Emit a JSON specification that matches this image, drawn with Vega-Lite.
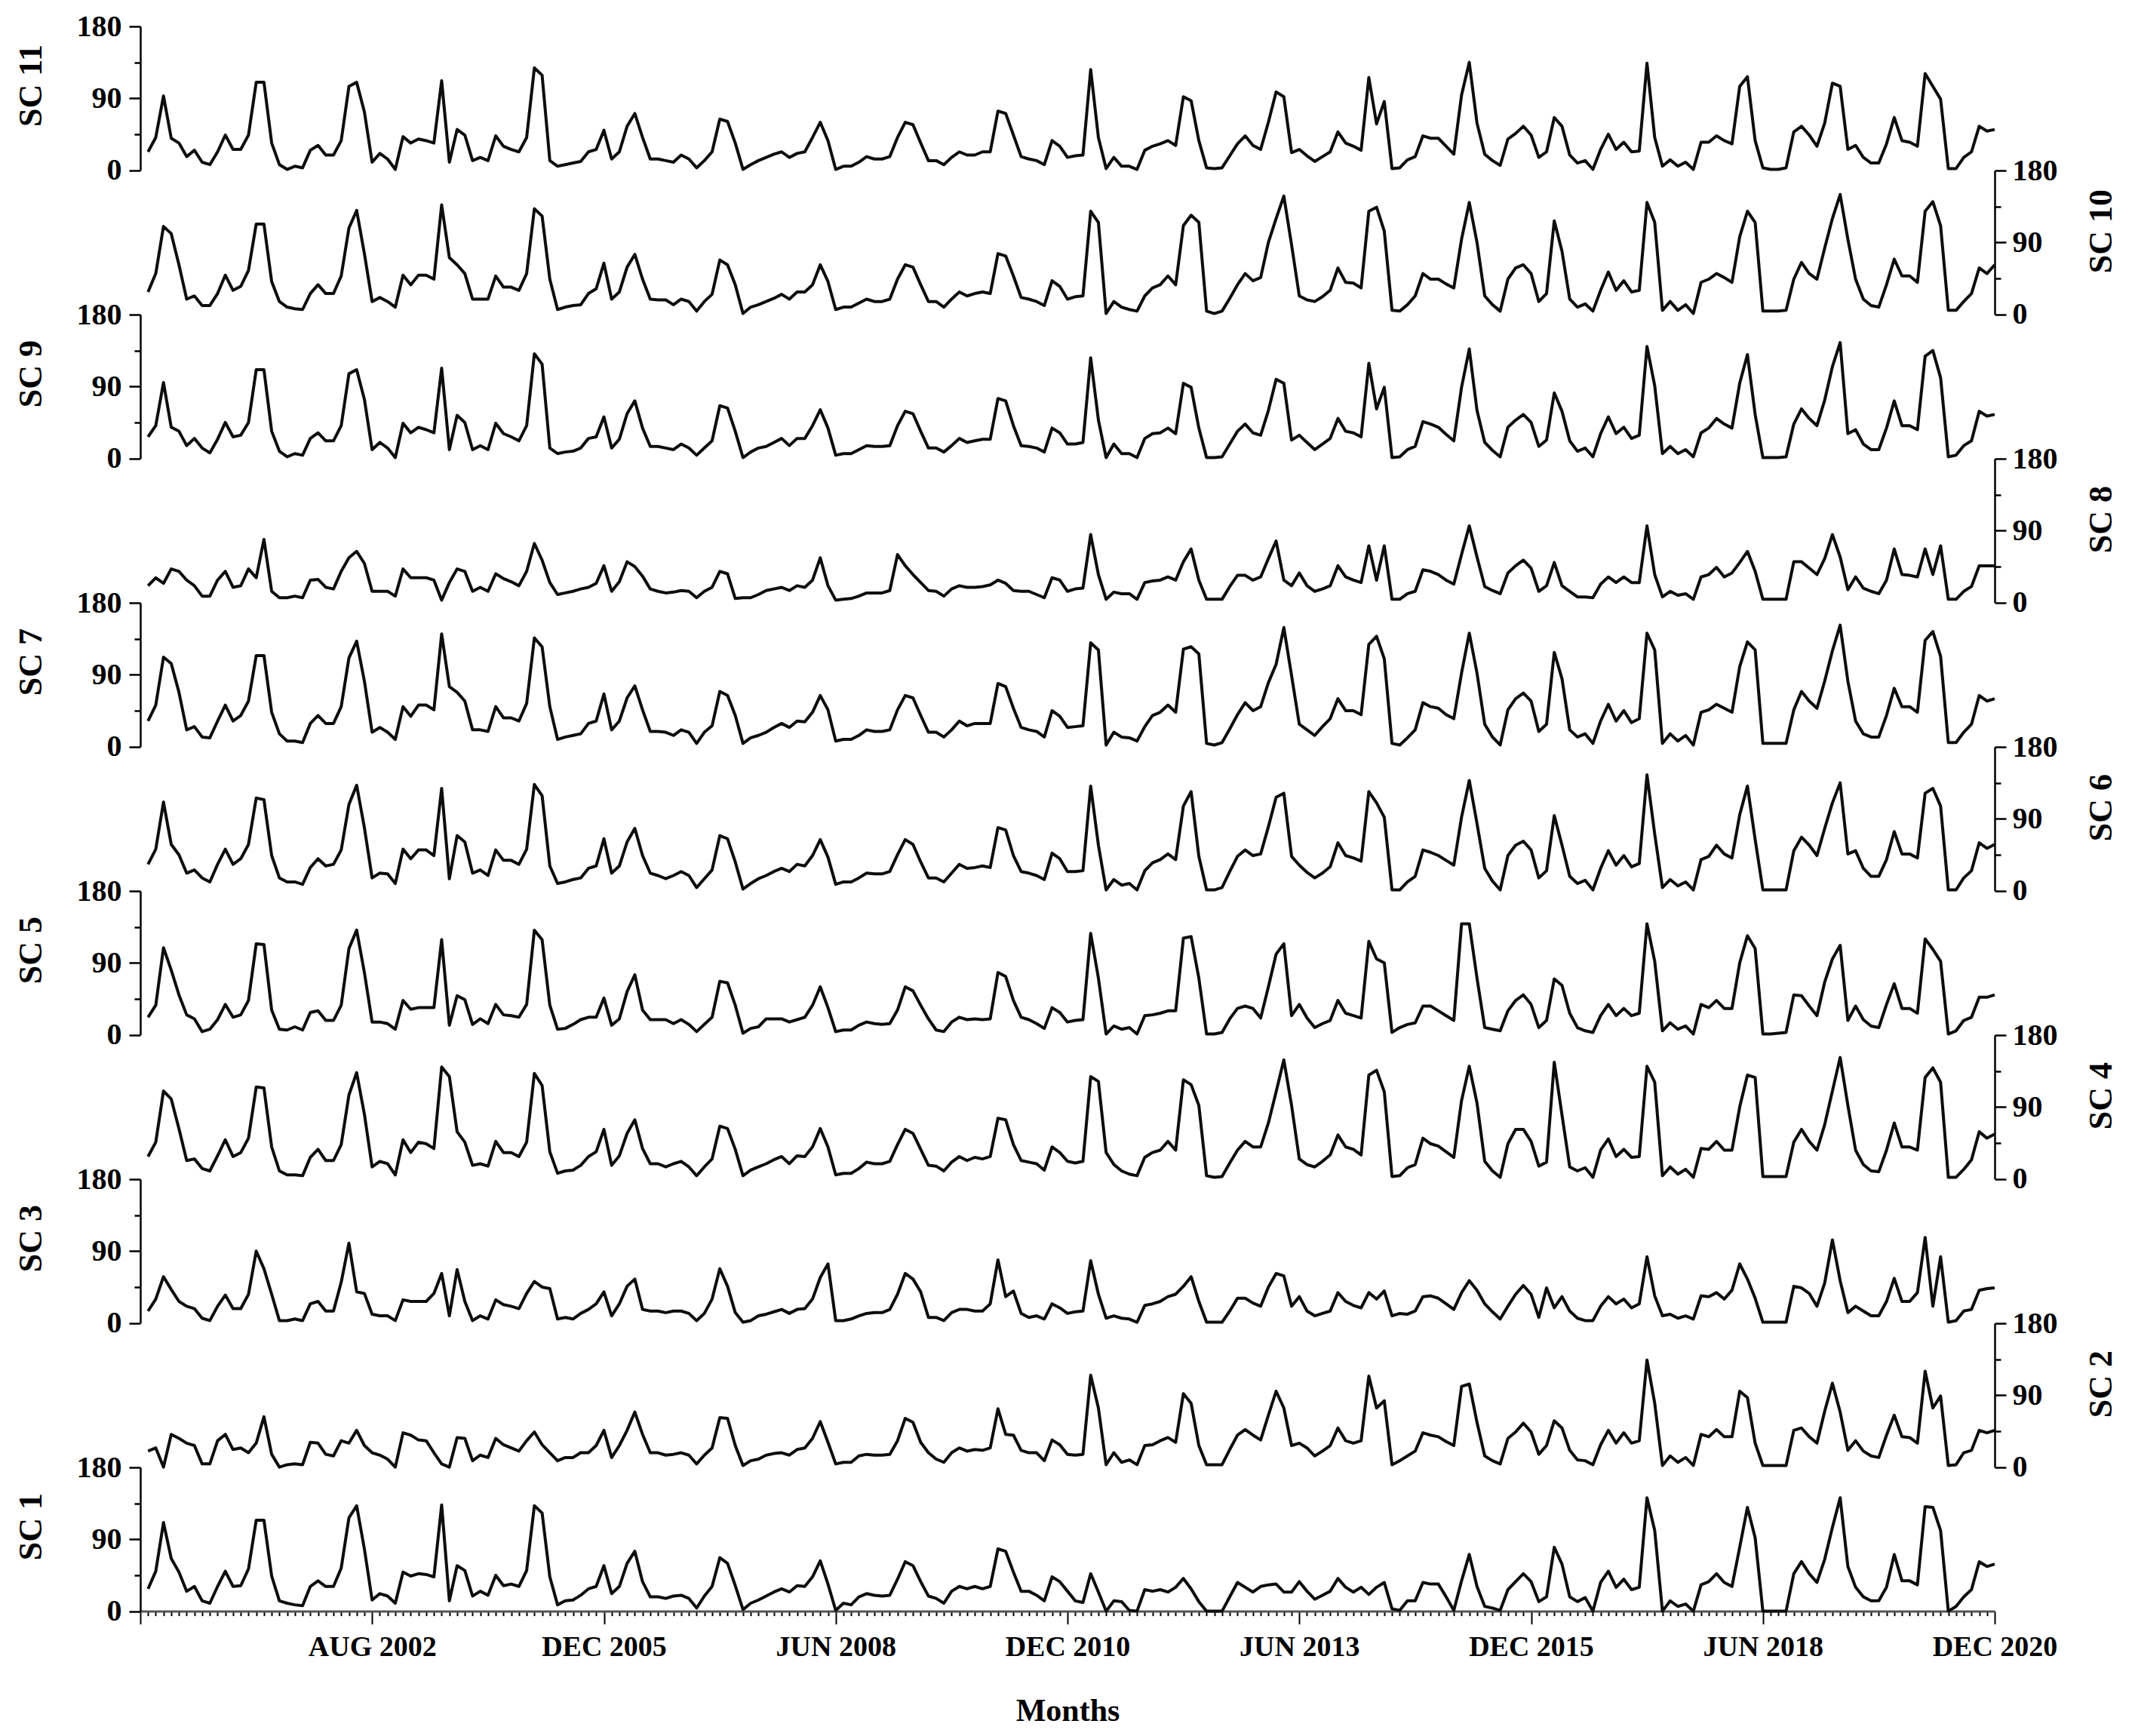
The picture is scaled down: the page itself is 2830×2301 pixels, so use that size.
{
"$schema": "https://vega.github.io/schema/vega-lite/v6.json",
"background": "white",
"padding": {"left": 19, "top": 15, "right": 10, "bottom": 5},
"spacing": 0,
"bounds": "flush",
"config": {
 "view": {"stroke": null},
 "font": "Liberation Serif",
 "line": {"color": "#0d0d0d", "strokeWidth": 4, "strokeJoin": "round"},
 "axis": {"domainColor": "#000000", "domainWidth": 2.5, "tickColor": "#000000", "tickWidth": 2.5, "labelColor": "#000000", "titleColor": "#000000", "labelFont": "Liberation Serif", "titleFont": "Liberation Serif", "labelFontWeight": "bold", "titleFontWeight": "bold", "labelFontSize": 40, "titleFontSize": 44, "grid": false}
},
"datasets": {
"sc11": [{"m":1,"v":23},{"m":2,"v":41},{"m":3,"v":93},{"m":4,"v":40},{"m":5,"v":34},{"m":6,"v":17},{"m":7,"v":25},{"m":8,"v":10},{"m":9,"v":7},{"m":10,"v":23},{"m":11,"v":44},{"m":12,"v":26},{"m":13,"v":26},{"m":14,"v":44},{"m":15,"v":110},{"m":16,"v":110},{"m":17,"v":34},{"m":18,"v":7},{"m":19,"v":1},{"m":20,"v":5},{"m":21,"v":3},{"m":22,"v":25},{"m":23,"v":31},{"m":24,"v":19},{"m":25,"v":19},{"m":26,"v":37},{"m":27,"v":105},{"m":28,"v":110},{"m":29,"v":73},{"m":30,"v":10},{"m":31,"v":21},{"m":32,"v":14},{"m":33,"v":1},{"m":34,"v":42},{"m":35,"v":34},{"m":36,"v":39},{"m":37,"v":37},{"m":38,"v":34},{"m":39,"v":112},{"m":40,"v":10},{"m":41,"v":51},{"m":42,"v":44},{"m":43,"v":12},{"m":44,"v":16},{"m":45,"v":12},{"m":46,"v":43},{"m":47,"v":30},{"m":48,"v":26},{"m":49,"v":23},{"m":50,"v":41},{"m":51,"v":128},{"m":52,"v":119},{"m":53,"v":12},{"m":54,"v":5},{"m":55,"v":7},{"m":56,"v":9},{"m":57,"v":11},{"m":58,"v":23},{"m":59,"v":26},{"m":60,"v":50},{"m":61,"v":14},{"m":62,"v":23},{"m":63,"v":55},{"m":64,"v":71},{"m":65,"v":41},{"m":66,"v":14},{"m":67,"v":14},{"m":68,"v":12},{"m":69,"v":10},{"m":70,"v":19},{"m":71,"v":14},{"m":72,"v":3},{"m":73,"v":12},{"m":74,"v":23},{"m":75,"v":64},{"m":76,"v":61},{"m":77,"v":34},{"m":78,"v":1},{"m":79,"v":7},{"m":80,"v":12},{"m":81,"v":16},{"m":82,"v":20},{"m":83,"v":23},{"m":84,"v":16},{"m":85,"v":21},{"m":86,"v":23},{"m":87,"v":41},{"m":88,"v":60},{"m":89,"v":37},{"m":90,"v":1},{"m":91,"v":5},{"m":92,"v":5},{"m":93,"v":10},{"m":94,"v":17},{"m":95,"v":14},{"m":96,"v":14},{"m":97,"v":17},{"m":98,"v":41},{"m":99,"v":60},{"m":100,"v":57},{"m":101,"v":34},{"m":102,"v":12},{"m":103,"v":12},{"m":104,"v":7},{"m":105,"v":16},{"m":106,"v":23},{"m":107,"v":19},{"m":108,"v":19},{"m":109,"v":23},{"m":110,"v":23},{"m":111,"v":74},{"m":112,"v":71},{"m":113,"v":44},{"m":114,"v":17},{"m":115,"v":14},{"m":116,"v":12},{"m":117,"v":7},{"m":118,"v":37},{"m":119,"v":30},{"m":120,"v":16},{"m":121,"v":18},{"m":122,"v":19},{"m":123,"v":126},{"m":124,"v":41},{"m":125,"v":2},{"m":126,"v":16},{"m":127,"v":5},{"m":128,"v":5},{"m":129,"v":1},{"m":130,"v":25},{"m":131,"v":30},{"m":132,"v":33},{"m":133,"v":37},{"m":134,"v":31},{"m":135,"v":92},{"m":136,"v":87},{"m":137,"v":37},{"m":138,"v":3},{"m":139,"v":2},{"m":140,"v":3},{"m":141,"v":18},{"m":142,"v":33},{"m":143,"v":43},{"m":144,"v":31},{"m":145,"v":26},{"m":146,"v":60},{"m":147,"v":98},{"m":148,"v":92},{"m":149,"v":22},{"m":150,"v":26},{"m":151,"v":18},{"m":152,"v":11},{"m":153,"v":17},{"m":154,"v":23},{"m":155,"v":48},{"m":156,"v":34},{"m":157,"v":30},{"m":158,"v":25},{"m":159,"v":116},{"m":160,"v":58},{"m":161,"v":86},{"m":162,"v":2},{"m":163,"v":3},{"m":164,"v":13},{"m":165,"v":17},{"m":166,"v":43},{"m":167,"v":40},{"m":168,"v":40},{"m":169,"v":30},{"m":170,"v":20},{"m":171,"v":94},{"m":172,"v":135},{"m":173,"v":59},{"m":174,"v":20},{"m":175,"v":12},{"m":176,"v":6},{"m":177,"v":39},{"m":178,"v":46},{"m":179,"v":55},{"m":180,"v":44},{"m":181,"v":16},{"m":182,"v":23},{"m":183,"v":66},{"m":184,"v":55},{"m":185,"v":19},{"m":186,"v":9},{"m":187,"v":12},{"m":188,"v":1},{"m":189,"v":26},{"m":190,"v":45},{"m":191,"v":26},{"m":192,"v":35},{"m":193,"v":23},{"m":194,"v":24},{"m":195,"v":134},{"m":196,"v":41},{"m":197,"v":5},{"m":198,"v":13},{"m":199,"v":5},{"m":200,"v":10},{"m":201,"v":1},{"m":202,"v":35},{"m":203,"v":35},{"m":204,"v":43},{"m":205,"v":37},{"m":206,"v":33},{"m":207,"v":105},{"m":208,"v":117},{"m":209,"v":37},{"m":210,"v":3},{"m":211,"v":1},{"m":212,"v":1},{"m":213,"v":3},{"m":214,"v":48},{"m":215,"v":55},{"m":216,"v":44},{"m":217,"v":30},{"m":218,"v":59},{"m":219,"v":109},{"m":220,"v":105},{"m":221,"v":26},{"m":222,"v":31},{"m":223,"v":16},{"m":224,"v":9},{"m":225,"v":9},{"m":226,"v":33},{"m":227,"v":66},{"m":228,"v":37},{"m":229,"v":35},{"m":230,"v":30},{"m":231,"v":121},{"m":232,"v":105},{"m":233,"v":89},{"m":234,"v":2},{"m":235,"v":2},{"m":236,"v":16},{"m":237,"v":23},{"m":238,"v":55},{"m":239,"v":49},{"m":240,"v":51}],
"sc10": [{"m":1,"v":28},{"m":2,"v":51},{"m":3,"v":110},{"m":4,"v":101},{"m":5,"v":62},{"m":6,"v":19},{"m":7,"v":23},{"m":8,"v":11},{"m":9,"v":11},{"m":10,"v":26},{"m":11,"v":49},{"m":12,"v":30},{"m":13,"v":35},{"m":14,"v":55},{"m":15,"v":113},{"m":16,"v":113},{"m":17,"v":41},{"m":18,"v":16},{"m":19,"v":9},{"m":20,"v":7},{"m":21,"v":6},{"m":22,"v":26},{"m":23,"v":37},{"m":24,"v":26},{"m":25,"v":26},{"m":26,"v":48},{"m":27,"v":108},{"m":28,"v":130},{"m":29,"v":76},{"m":30,"v":16},{"m":31,"v":21},{"m":32,"v":16},{"m":33,"v":9},{"m":34,"v":49},{"m":35,"v":37},{"m":36,"v":49},{"m":37,"v":49},{"m":38,"v":44},{"m":39,"v":137},{"m":40,"v":71},{"m":41,"v":62},{"m":42,"v":51},{"m":43,"v":19},{"m":44,"v":19},{"m":45,"v":19},{"m":46,"v":48},{"m":47,"v":34},{"m":48,"v":34},{"m":49,"v":30},{"m":50,"v":51},{"m":51,"v":132},{"m":52,"v":123},{"m":53,"v":44},{"m":54,"v":6},{"m":55,"v":9},{"m":56,"v":11},{"m":57,"v":12},{"m":58,"v":26},{"m":59,"v":32},{"m":60,"v":64},{"m":61,"v":19},{"m":62,"v":28},{"m":63,"v":59},{"m":64,"v":75},{"m":65,"v":44},{"m":66,"v":19},{"m":67,"v":18},{"m":68,"v":18},{"m":69,"v":12},{"m":70,"v":19},{"m":71,"v":16},{"m":72,"v":4},{"m":73,"v":16},{"m":74,"v":25},{"m":75,"v":68},{"m":76,"v":62},{"m":77,"v":37},{"m":78,"v":1},{"m":79,"v":9},{"m":80,"v":12},{"m":81,"v":16},{"m":82,"v":20},{"m":83,"v":25},{"m":84,"v":19},{"m":85,"v":28},{"m":86,"v":28},{"m":87,"v":37},{"m":88,"v":62},{"m":89,"v":41},{"m":90,"v":6},{"m":91,"v":9},{"m":92,"v":9},{"m":93,"v":14},{"m":94,"v":19},{"m":95,"v":16},{"m":96,"v":16},{"m":97,"v":19},{"m":98,"v":44},{"m":99,"v":62},{"m":100,"v":59},{"m":101,"v":37},{"m":102,"v":16},{"m":103,"v":16},{"m":104,"v":9},{"m":105,"v":19},{"m":106,"v":28},{"m":107,"v":23},{"m":108,"v":26},{"m":109,"v":28},{"m":110,"v":26},{"m":111,"v":76},{"m":112,"v":73},{"m":113,"v":48},{"m":114,"v":21},{"m":115,"v":19},{"m":116,"v":16},{"m":117,"v":11},{"m":118,"v":42},{"m":119,"v":35},{"m":120,"v":19},{"m":121,"v":22},{"m":122,"v":23},{"m":123,"v":129},{"m":124,"v":115},{"m":125,"v":1},{"m":126,"v":16},{"m":127,"v":9},{"m":128,"v":6},{"m":129,"v":4},{"m":130,"v":23},{"m":131,"v":33},{"m":132,"v":37},{"m":133,"v":48},{"m":134,"v":37},{"m":135,"v":111},{"m":136,"v":124},{"m":137,"v":115},{"m":138,"v":4},{"m":139,"v":1},{"m":140,"v":4},{"m":141,"v":20},{"m":142,"v":37},{"m":143,"v":51},{"m":144,"v":42},{"m":145,"v":46},{"m":146,"v":90},{"m":147,"v":120},{"m":148,"v":148},{"m":149,"v":87},{"m":150,"v":23},{"m":151,"v":18},{"m":152,"v":16},{"m":153,"v":22},{"m":154,"v":30},{"m":155,"v":58},{"m":156,"v":40},{"m":157,"v":39},{"m":158,"v":33},{"m":159,"v":129},{"m":160,"v":134},{"m":161,"v":104},{"m":162,"v":5},{"m":163,"v":4},{"m":164,"v":12},{"m":165,"v":23},{"m":166,"v":51},{"m":167,"v":44},{"m":168,"v":44},{"m":169,"v":38},{"m":170,"v":33},{"m":171,"v":94},{"m":172,"v":140},{"m":173,"v":90},{"m":174,"v":23},{"m":175,"v":12},{"m":176,"v":4},{"m":177,"v":44},{"m":178,"v":58},{"m":179,"v":62},{"m":180,"v":51},{"m":181,"v":16},{"m":182,"v":26},{"m":183,"v":117},{"m":184,"v":79},{"m":185,"v":19},{"m":186,"v":9},{"m":187,"v":13},{"m":188,"v":4},{"m":189,"v":30},{"m":190,"v":53},{"m":191,"v":30},{"m":192,"v":42},{"m":193,"v":28},{"m":194,"v":30},{"m":195,"v":140},{"m":196,"v":115},{"m":197,"v":5},{"m":198,"v":16},{"m":199,"v":5},{"m":200,"v":12},{"m":201,"v":1},{"m":202,"v":40},{"m":203,"v":44},{"m":204,"v":51},{"m":205,"v":46},{"m":206,"v":40},{"m":207,"v":97},{"m":208,"v":129},{"m":209,"v":115},{"m":210,"v":4},{"m":211,"v":4},{"m":212,"v":4},{"m":213,"v":5},{"m":214,"v":44},{"m":215,"v":65},{"m":216,"v":51},{"m":217,"v":44},{"m":218,"v":83},{"m":219,"v":120},{"m":220,"v":150},{"m":221,"v":94},{"m":222,"v":44},{"m":223,"v":19},{"m":224,"v":11},{"m":225,"v":9},{"m":226,"v":37},{"m":227,"v":69},{"m":228,"v":48},{"m":229,"v":48},{"m":230,"v":40},{"m":231,"v":129},{"m":232,"v":141},{"m":233,"v":111},{"m":234,"v":5},{"m":235,"v":5},{"m":236,"v":16},{"m":237,"v":26},{"m":238,"v":58},{"m":239,"v":51},{"m":240,"v":62}],
"sc9": [{"m":1,"v":27},{"m":2,"v":41},{"m":3,"v":95},{"m":4,"v":39},{"m":5,"v":34},{"m":6,"v":16},{"m":7,"v":25},{"m":8,"v":13},{"m":9,"v":7},{"m":10,"v":24},{"m":11,"v":45},{"m":12,"v":27},{"m":13,"v":29},{"m":14,"v":45},{"m":15,"v":111},{"m":16,"v":111},{"m":17,"v":34},{"m":18,"v":9},{"m":19,"v":2},{"m":20,"v":6},{"m":21,"v":4},{"m":22,"v":25},{"m":23,"v":32},{"m":24,"v":22},{"m":25,"v":22},{"m":26,"v":41},{"m":27,"v":106},{"m":28,"v":111},{"m":29,"v":74},{"m":30,"v":11},{"m":31,"v":20},{"m":32,"v":13},{"m":33,"v":1},{"m":34,"v":44},{"m":35,"v":32},{"m":36,"v":39},{"m":37,"v":36},{"m":38,"v":32},{"m":39,"v":113},{"m":40,"v":11},{"m":41,"v":54},{"m":42,"v":45},{"m":43,"v":11},{"m":44,"v":16},{"m":45,"v":11},{"m":46,"v":44},{"m":47,"v":31},{"m":48,"v":27},{"m":49,"v":22},{"m":50,"v":41},{"m":51,"v":131},{"m":52,"v":118},{"m":53,"v":13},{"m":54,"v":6},{"m":55,"v":8},{"m":56,"v":9},{"m":57,"v":13},{"m":58,"v":25},{"m":59,"v":27},{"m":60,"v":52},{"m":61,"v":13},{"m":62,"v":24},{"m":63,"v":56},{"m":64,"v":72},{"m":65,"v":38},{"m":66,"v":15},{"m":67,"v":15},{"m":68,"v":13},{"m":69,"v":11},{"m":70,"v":18},{"m":71,"v":13},{"m":72,"v":4},{"m":73,"v":13},{"m":74,"v":22},{"m":75,"v":66},{"m":76,"v":63},{"m":77,"v":34},{"m":78,"v":1},{"m":79,"v":8},{"m":80,"v":13},{"m":81,"v":15},{"m":82,"v":20},{"m":83,"v":25},{"m":84,"v":16},{"m":85,"v":25},{"m":86,"v":25},{"m":87,"v":41},{"m":88,"v":61},{"m":89,"v":38},{"m":90,"v":4},{"m":91,"v":6},{"m":92,"v":6},{"m":93,"v":11},{"m":94,"v":16},{"m":95,"v":15},{"m":96,"v":15},{"m":97,"v":16},{"m":98,"v":41},{"m":99,"v":59},{"m":100,"v":56},{"m":101,"v":34},{"m":102,"v":13},{"m":103,"v":13},{"m":104,"v":8},{"m":105,"v":16},{"m":106,"v":25},{"m":107,"v":20},{"m":108,"v":22},{"m":109,"v":24},{"m":110,"v":24},{"m":111,"v":75},{"m":112,"v":72},{"m":113,"v":41},{"m":114,"v":16},{"m":115,"v":15},{"m":116,"v":13},{"m":117,"v":8},{"m":118,"v":38},{"m":119,"v":32},{"m":120,"v":18},{"m":121,"v":18},{"m":122,"v":20},{"m":123,"v":126},{"m":124,"v":48},{"m":125,"v":1},{"m":126,"v":18},{"m":127,"v":6},{"m":128,"v":6},{"m":129,"v":1},{"m":130,"v":25},{"m":131,"v":31},{"m":132,"v":32},{"m":133,"v":38},{"m":134,"v":31},{"m":135,"v":94},{"m":136,"v":89},{"m":137,"v":38},{"m":138,"v":1},{"m":139,"v":1},{"m":140,"v":2},{"m":141,"v":18},{"m":142,"v":34},{"m":143,"v":43},{"m":144,"v":32},{"m":145,"v":29},{"m":146,"v":60},{"m":147,"v":99},{"m":148,"v":94},{"m":149,"v":23},{"m":150,"v":29},{"m":151,"v":20},{"m":152,"v":11},{"m":153,"v":18},{"m":154,"v":25},{"m":155,"v":50},{"m":156,"v":34},{"m":157,"v":32},{"m":158,"v":27},{"m":159,"v":119},{"m":160,"v":62},{"m":161,"v":89},{"m":162,"v":1},{"m":163,"v":2},{"m":164,"v":11},{"m":165,"v":15},{"m":166,"v":46},{"m":167,"v":43},{"m":168,"v":39},{"m":169,"v":30},{"m":170,"v":22},{"m":171,"v":89},{"m":172,"v":137},{"m":173,"v":60},{"m":174,"v":20},{"m":175,"v":10},{"m":176,"v":2},{"m":177,"v":39},{"m":178,"v":48},{"m":179,"v":55},{"m":180,"v":45},{"m":181,"v":15},{"m":182,"v":23},{"m":183,"v":82},{"m":184,"v":59},{"m":185,"v":22},{"m":186,"v":9},{"m":187,"v":13},{"m":188,"v":2},{"m":189,"v":31},{"m":190,"v":52},{"m":191,"v":31},{"m":192,"v":39},{"m":193,"v":25},{"m":194,"v":29},{"m":195,"v":140},{"m":196,"v":91},{"m":197,"v":6},{"m":198,"v":15},{"m":199,"v":6},{"m":200,"v":11},{"m":201,"v":2},{"m":202,"v":32},{"m":203,"v":38},{"m":204,"v":50},{"m":205,"v":43},{"m":206,"v":38},{"m":207,"v":94},{"m":208,"v":130},{"m":209,"v":55},{"m":210,"v":1},{"m":211,"v":1},{"m":212,"v":1},{"m":213,"v":2},{"m":214,"v":43},{"m":215,"v":62},{"m":216,"v":50},{"m":217,"v":41},{"m":218,"v":73},{"m":219,"v":115},{"m":220,"v":145},{"m":221,"v":31},{"m":222,"v":36},{"m":223,"v":18},{"m":224,"v":11},{"m":225,"v":11},{"m":226,"v":38},{"m":227,"v":72},{"m":228,"v":41},{"m":229,"v":41},{"m":230,"v":36},{"m":231,"v":128},{"m":232,"v":135},{"m":233,"v":101},{"m":234,"v":2},{"m":235,"v":4},{"m":236,"v":16},{"m":237,"v":22},{"m":238,"v":59},{"m":239,"v":53},{"m":240,"v":55}],
"sc8": [{"m":1,"v":21},{"m":2,"v":31},{"m":3,"v":24},{"m":4,"v":42},{"m":5,"v":39},{"m":6,"v":28},{"m":7,"v":21},{"m":8,"v":8},{"m":9,"v":8},{"m":10,"v":28},{"m":11,"v":39},{"m":12,"v":19},{"m":13,"v":21},{"m":14,"v":42},{"m":15,"v":31},{"m":16,"v":79},{"m":17,"v":14},{"m":18,"v":6},{"m":19,"v":6},{"m":20,"v":8},{"m":21,"v":6},{"m":22,"v":28},{"m":23,"v":29},{"m":24,"v":19},{"m":25,"v":17},{"m":26,"v":39},{"m":27,"v":56},{"m":28,"v":64},{"m":29,"v":49},{"m":30,"v":14},{"m":31,"v":14},{"m":32,"v":14},{"m":33,"v":8},{"m":34,"v":42},{"m":35,"v":31},{"m":36,"v":31},{"m":37,"v":31},{"m":38,"v":28},{"m":39,"v":3},{"m":40,"v":25},{"m":41,"v":42},{"m":42,"v":39},{"m":43,"v":14},{"m":44,"v":19},{"m":45,"v":14},{"m":46,"v":36},{"m":47,"v":30},{"m":48,"v":26},{"m":49,"v":21},{"m":50,"v":39},{"m":51,"v":74},{"m":52,"v":53},{"m":53,"v":25},{"m":54,"v":10},{"m":55,"v":12},{"m":56,"v":14},{"m":57,"v":17},{"m":58,"v":19},{"m":59,"v":24},{"m":60,"v":46},{"m":61,"v":14},{"m":62,"v":26},{"m":63,"v":51},{"m":64,"v":45},{"m":65,"v":33},{"m":66,"v":17},{"m":67,"v":14},{"m":68,"v":12},{"m":69,"v":13},{"m":70,"v":15},{"m":71,"v":14},{"m":72,"v":6},{"m":73,"v":14},{"m":74,"v":19},{"m":75,"v":39},{"m":76,"v":36},{"m":77,"v":5},{"m":78,"v":6},{"m":79,"v":6},{"m":80,"v":10},{"m":81,"v":15},{"m":82,"v":17},{"m":83,"v":19},{"m":84,"v":15},{"m":85,"v":21},{"m":86,"v":19},{"m":87,"v":28},{"m":88,"v":56},{"m":89,"v":21},{"m":90,"v":3},{"m":91,"v":4},{"m":92,"v":5},{"m":93,"v":8},{"m":94,"v":12},{"m":95,"v":12},{"m":96,"v":12},{"m":97,"v":15},{"m":98,"v":60},{"m":99,"v":46},{"m":100,"v":35},{"m":101,"v":25},{"m":102,"v":15},{"m":103,"v":14},{"m":104,"v":8},{"m":105,"v":17},{"m":106,"v":21},{"m":107,"v":19},{"m":108,"v":19},{"m":109,"v":20},{"m":110,"v":22},{"m":111,"v":28},{"m":112,"v":24},{"m":113,"v":15},{"m":114,"v":14},{"m":115,"v":14},{"m":116,"v":10},{"m":117,"v":6},{"m":118,"v":31},{"m":119,"v":28},{"m":120,"v":14},{"m":121,"v":17},{"m":122,"v":18},{"m":123,"v":85},{"m":124,"v":35},{"m":125,"v":4},{"m":126,"v":13},{"m":127,"v":11},{"m":128,"v":11},{"m":129,"v":4},{"m":130,"v":25},{"m":131,"v":27},{"m":132,"v":28},{"m":133,"v":32},{"m":134,"v":28},{"m":135,"v":51},{"m":136,"v":67},{"m":137,"v":28},{"m":138,"v":4},{"m":139,"v":4},{"m":140,"v":4},{"m":141,"v":20},{"m":142,"v":34},{"m":143,"v":34},{"m":144,"v":28},{"m":145,"v":32},{"m":146,"v":55},{"m":147,"v":77},{"m":148,"v":28},{"m":149,"v":21},{"m":150,"v":37},{"m":151,"v":21},{"m":152,"v":14},{"m":153,"v":17},{"m":154,"v":21},{"m":155,"v":46},{"m":156,"v":32},{"m":157,"v":28},{"m":158,"v":25},{"m":159,"v":71},{"m":160,"v":28},{"m":161,"v":71},{"m":162,"v":4},{"m":163,"v":4},{"m":164,"v":11},{"m":165,"v":14},{"m":166,"v":41},{"m":167,"v":39},{"m":168,"v":35},{"m":169,"v":28},{"m":170,"v":23},{"m":171,"v":60},{"m":172,"v":96},{"m":173,"v":57},{"m":174,"v":20},{"m":175,"v":15},{"m":176,"v":11},{"m":177,"v":37},{"m":178,"v":46},{"m":179,"v":53},{"m":180,"v":43},{"m":181,"v":14},{"m":182,"v":21},{"m":183,"v":50},{"m":184,"v":21},{"m":185,"v":14},{"m":186,"v":7},{"m":187,"v":7},{"m":188,"v":6},{"m":189,"v":23},{"m":190,"v":32},{"m":191,"v":25},{"m":192,"v":32},{"m":193,"v":25},{"m":194,"v":25},{"m":195,"v":96},{"m":196,"v":35},{"m":197,"v":7},{"m":198,"v":14},{"m":199,"v":9},{"m":200,"v":11},{"m":201,"v":4},{"m":202,"v":32},{"m":203,"v":35},{"m":204,"v":44},{"m":205,"v":32},{"m":206,"v":37},{"m":207,"v":50},{"m":208,"v":64},{"m":209,"v":39},{"m":210,"v":4},{"m":211,"v":4},{"m":212,"v":4},{"m":213,"v":4},{"m":214,"v":51},{"m":215,"v":51},{"m":216,"v":43},{"m":217,"v":35},{"m":218,"v":55},{"m":219,"v":85},{"m":220,"v":57},{"m":221,"v":16},{"m":222,"v":32},{"m":223,"v":18},{"m":224,"v":14},{"m":225,"v":11},{"m":226,"v":28},{"m":227,"v":67},{"m":228,"v":35},{"m":229,"v":34},{"m":230,"v":32},{"m":231,"v":67},{"m":232,"v":35},{"m":233,"v":71},{"m":234,"v":4},{"m":235,"v":4},{"m":236,"v":14},{"m":237,"v":20},{"m":238,"v":46},{"m":239,"v":46},{"m":240,"v":46}],
"sc7": [{"m":1,"v":32},{"m":2,"v":52},{"m":3,"v":112},{"m":4,"v":104},{"m":5,"v":68},{"m":6,"v":21},{"m":7,"v":25},{"m":8,"v":12},{"m":9,"v":11},{"m":10,"v":32},{"m":11,"v":52},{"m":12,"v":32},{"m":13,"v":39},{"m":14,"v":57},{"m":15,"v":114},{"m":16,"v":114},{"m":17,"v":43},{"m":18,"v":16},{"m":19,"v":7},{"m":20,"v":7},{"m":21,"v":5},{"m":22,"v":29},{"m":23,"v":39},{"m":24,"v":29},{"m":25,"v":29},{"m":26,"v":50},{"m":27,"v":111},{"m":28,"v":132},{"m":29,"v":82},{"m":30,"v":18},{"m":31,"v":24},{"m":32,"v":18},{"m":33,"v":9},{"m":34,"v":50},{"m":35,"v":38},{"m":36,"v":52},{"m":37,"v":52},{"m":38,"v":46},{"m":39,"v":141},{"m":40,"v":75},{"m":41,"v":68},{"m":42,"v":57},{"m":43,"v":21},{"m":44,"v":21},{"m":45,"v":19},{"m":46,"v":50},{"m":47,"v":36},{"m":48,"v":36},{"m":49,"v":32},{"m":50,"v":54},{"m":51,"v":136},{"m":52,"v":125},{"m":53,"v":50},{"m":54,"v":9},{"m":55,"v":12},{"m":56,"v":14},{"m":57,"v":16},{"m":58,"v":29},{"m":59,"v":32},{"m":60,"v":66},{"m":61,"v":21},{"m":62,"v":32},{"m":63,"v":61},{"m":64,"v":76},{"m":65,"v":46},{"m":66,"v":19},{"m":67,"v":19},{"m":68,"v":18},{"m":69,"v":14},{"m":70,"v":21},{"m":71,"v":18},{"m":72,"v":4},{"m":73,"v":18},{"m":74,"v":26},{"m":75,"v":69},{"m":76,"v":64},{"m":77,"v":39},{"m":78,"v":4},{"m":79,"v":11},{"m":80,"v":14},{"m":81,"v":18},{"m":82,"v":24},{"m":83,"v":29},{"m":84,"v":24},{"m":85,"v":32},{"m":86,"v":31},{"m":87,"v":43},{"m":88,"v":64},{"m":89,"v":46},{"m":90,"v":7},{"m":91,"v":9},{"m":92,"v":9},{"m":93,"v":14},{"m":94,"v":21},{"m":95,"v":19},{"m":96,"v":19},{"m":97,"v":21},{"m":98,"v":46},{"m":99,"v":64},{"m":100,"v":61},{"m":101,"v":39},{"m":102,"v":18},{"m":103,"v":18},{"m":104,"v":12},{"m":105,"v":21},{"m":106,"v":32},{"m":107,"v":26},{"m":108,"v":29},{"m":109,"v":29},{"m":110,"v":29},{"m":111,"v":79},{"m":112,"v":75},{"m":113,"v":48},{"m":114,"v":24},{"m":115,"v":21},{"m":116,"v":19},{"m":117,"v":12},{"m":118,"v":45},{"m":119,"v":38},{"m":120,"v":24},{"m":121,"v":25},{"m":122,"v":26},{"m":123,"v":130},{"m":124,"v":121},{"m":125,"v":2},{"m":126,"v":18},{"m":127,"v":12},{"m":128,"v":11},{"m":129,"v":7},{"m":130,"v":25},{"m":131,"v":39},{"m":132,"v":43},{"m":133,"v":52},{"m":134,"v":43},{"m":135,"v":122},{"m":136,"v":125},{"m":137,"v":116},{"m":138,"v":4},{"m":139,"v":2},{"m":140,"v":5},{"m":141,"v":22},{"m":142,"v":40},{"m":143,"v":55},{"m":144,"v":45},{"m":145,"v":50},{"m":146,"v":80},{"m":147,"v":103},{"m":148,"v":149},{"m":149,"v":89},{"m":150,"v":28},{"m":151,"v":21},{"m":152,"v":14},{"m":153,"v":25},{"m":154,"v":35},{"m":155,"v":60},{"m":156,"v":45},{"m":157,"v":45},{"m":158,"v":40},{"m":159,"v":128},{"m":160,"v":138},{"m":161,"v":110},{"m":162,"v":4},{"m":163,"v":2},{"m":164,"v":11},{"m":165,"v":21},{"m":166,"v":55},{"m":167,"v":50},{"m":168,"v":48},{"m":169,"v":40},{"m":170,"v":35},{"m":171,"v":92},{"m":172,"v":142},{"m":173,"v":92},{"m":174,"v":28},{"m":175,"v":12},{"m":176,"v":2},{"m":177,"v":46},{"m":178,"v":60},{"m":179,"v":67},{"m":180,"v":57},{"m":181,"v":19},{"m":182,"v":28},{"m":183,"v":118},{"m":184,"v":85},{"m":185,"v":21},{"m":186,"v":12},{"m":187,"v":16},{"m":188,"v":4},{"m":189,"v":32},{"m":190,"v":53},{"m":191,"v":32},{"m":192,"v":45},{"m":193,"v":30},{"m":194,"v":35},{"m":195,"v":142},{"m":196,"v":121},{"m":197,"v":4},{"m":198,"v":16},{"m":199,"v":7},{"m":200,"v":14},{"m":201,"v":2},{"m":202,"v":43},{"m":203,"v":46},{"m":204,"v":53},{"m":205,"v":48},{"m":206,"v":43},{"m":207,"v":100},{"m":208,"v":131},{"m":209,"v":121},{"m":210,"v":4},{"m":211,"v":4},{"m":212,"v":4},{"m":213,"v":4},{"m":214,"v":46},{"m":215,"v":69},{"m":216,"v":57},{"m":217,"v":48},{"m":218,"v":82},{"m":219,"v":120},{"m":220,"v":152},{"m":221,"v":82},{"m":222,"v":32},{"m":223,"v":16},{"m":224,"v":12},{"m":225,"v":12},{"m":226,"v":39},{"m":227,"v":73},{"m":228,"v":50},{"m":229,"v":50},{"m":230,"v":43},{"m":231,"v":133},{"m":232,"v":144},{"m":233,"v":113},{"m":234,"v":5},{"m":235,"v":5},{"m":236,"v":18},{"m":237,"v":28},{"m":238,"v":64},{"m":239,"v":57},{"m":240,"v":60}],
"sc6": [{"m":1,"v":33},{"m":2,"v":52},{"m":3,"v":111},{"m":4,"v":58},{"m":5,"v":45},{"m":6,"v":22},{"m":7,"v":26},{"m":8,"v":16},{"m":9,"v":11},{"m":10,"v":33},{"m":11,"v":52},{"m":12,"v":33},{"m":13,"v":40},{"m":14,"v":58},{"m":15,"v":116},{"m":16,"v":114},{"m":17,"v":44},{"m":18,"v":16},{"m":19,"v":11},{"m":20,"v":11},{"m":21,"v":8},{"m":22,"v":29},{"m":23,"v":40},{"m":24,"v":31},{"m":25,"v":33},{"m":26,"v":51},{"m":27,"v":108},{"m":28,"v":132},{"m":29,"v":79},{"m":30,"v":16},{"m":31,"v":22},{"m":32,"v":21},{"m":33,"v":9},{"m":34,"v":52},{"m":35,"v":40},{"m":36,"v":51},{"m":37,"v":51},{"m":38,"v":44},{"m":39,"v":128},{"m":40,"v":15},{"m":41,"v":69},{"m":42,"v":61},{"m":43,"v":22},{"m":44,"v":26},{"m":45,"v":19},{"m":46,"v":51},{"m":47,"v":38},{"m":48,"v":38},{"m":49,"v":33},{"m":50,"v":52},{"m":51,"v":133},{"m":52,"v":119},{"m":53,"v":31},{"m":54,"v":9},{"m":55,"v":11},{"m":56,"v":14},{"m":57,"v":16},{"m":58,"v":28},{"m":59,"v":31},{"m":60,"v":65},{"m":61,"v":22},{"m":62,"v":31},{"m":63,"v":61},{"m":64,"v":78},{"m":65,"v":44},{"m":66,"v":22},{"m":67,"v":19},{"m":68,"v":15},{"m":69,"v":19},{"m":70,"v":24},{"m":71,"v":19},{"m":72,"v":4},{"m":73,"v":15},{"m":74,"v":26},{"m":75,"v":69},{"m":76,"v":65},{"m":77,"v":36},{"m":78,"v":2},{"m":79,"v":9},{"m":80,"v":15},{"m":81,"v":19},{"m":82,"v":24},{"m":83,"v":28},{"m":84,"v":24},{"m":85,"v":33},{"m":86,"v":31},{"m":87,"v":44},{"m":88,"v":64},{"m":89,"v":42},{"m":90,"v":8},{"m":91,"v":11},{"m":92,"v":11},{"m":93,"v":16},{"m":94,"v":22},{"m":95,"v":21},{"m":96,"v":21},{"m":97,"v":24},{"m":98,"v":45},{"m":99,"v":64},{"m":100,"v":58},{"m":101,"v":36},{"m":102,"v":16},{"m":103,"v":16},{"m":104,"v":11},{"m":105,"v":22},{"m":106,"v":33},{"m":107,"v":28},{"m":108,"v":29},{"m":109,"v":31},{"m":110,"v":29},{"m":111,"v":79},{"m":112,"v":76},{"m":113,"v":44},{"m":114,"v":24},{"m":115,"v":22},{"m":116,"v":19},{"m":117,"v":14},{"m":118,"v":47},{"m":119,"v":40},{"m":120,"v":24},{"m":121,"v":24},{"m":122,"v":25},{"m":123,"v":131},{"m":124,"v":57},{"m":125,"v":1},{"m":126,"v":14},{"m":127,"v":7},{"m":128,"v":9},{"m":129,"v":1},{"m":130,"v":25},{"m":131,"v":35},{"m":132,"v":39},{"m":133,"v":46},{"m":134,"v":39},{"m":135,"v":106},{"m":136,"v":124},{"m":137,"v":43},{"m":138,"v":1},{"m":139,"v":1},{"m":140,"v":4},{"m":141,"v":24},{"m":142,"v":43},{"m":143,"v":51},{"m":144,"v":44},{"m":145,"v":46},{"m":146,"v":80},{"m":147,"v":117},{"m":148,"v":122},{"m":149,"v":43},{"m":150,"v":32},{"m":151,"v":23},{"m":152,"v":16},{"m":153,"v":22},{"m":154,"v":30},{"m":155,"v":60},{"m":156,"v":44},{"m":157,"v":41},{"m":158,"v":37},{"m":159,"v":124},{"m":160,"v":110},{"m":161,"v":92},{"m":162,"v":1},{"m":163,"v":1},{"m":164,"v":11},{"m":165,"v":18},{"m":166,"v":51},{"m":167,"v":48},{"m":168,"v":44},{"m":169,"v":38},{"m":170,"v":32},{"m":171,"v":92},{"m":172,"v":138},{"m":173,"v":84},{"m":174,"v":28},{"m":175,"v":12},{"m":176,"v":1},{"m":177,"v":44},{"m":178,"v":57},{"m":179,"v":62},{"m":180,"v":51},{"m":181,"v":16},{"m":182,"v":25},{"m":183,"v":94},{"m":184,"v":57},{"m":185,"v":18},{"m":186,"v":9},{"m":187,"v":13},{"m":188,"v":1},{"m":189,"v":28},{"m":190,"v":50},{"m":191,"v":32},{"m":192,"v":44},{"m":193,"v":30},{"m":194,"v":34},{"m":195,"v":145},{"m":196,"v":71},{"m":197,"v":4},{"m":198,"v":14},{"m":199,"v":6},{"m":200,"v":11},{"m":201,"v":1},{"m":202,"v":39},{"m":203,"v":43},{"m":204,"v":57},{"m":205,"v":46},{"m":206,"v":41},{"m":207,"v":95},{"m":208,"v":131},{"m":209,"v":64},{"m":210,"v":1},{"m":211,"v":1},{"m":212,"v":1},{"m":213,"v":1},{"m":214,"v":50},{"m":215,"v":67},{"m":216,"v":57},{"m":217,"v":44},{"m":218,"v":78},{"m":219,"v":110},{"m":220,"v":135},{"m":221,"v":46},{"m":222,"v":50},{"m":223,"v":28},{"m":224,"v":18},{"m":225,"v":18},{"m":226,"v":39},{"m":227,"v":74},{"m":228,"v":46},{"m":229,"v":46},{"m":230,"v":41},{"m":231,"v":122},{"m":232,"v":128},{"m":233,"v":106},{"m":234,"v":1},{"m":235,"v":1},{"m":236,"v":16},{"m":237,"v":25},{"m":238,"v":60},{"m":239,"v":53},{"m":240,"v":58}],
"sc5": [{"m":1,"v":22},{"m":2,"v":37},{"m":3,"v":109},{"m":4,"v":81},{"m":5,"v":50},{"m":6,"v":25},{"m":7,"v":20},{"m":8,"v":4},{"m":9,"v":7},{"m":10,"v":19},{"m":11,"v":38},{"m":12,"v":22},{"m":13,"v":25},{"m":14,"v":43},{"m":15,"v":114},{"m":16,"v":113},{"m":17,"v":31},{"m":18,"v":7},{"m":19,"v":6},{"m":20,"v":10},{"m":21,"v":6},{"m":22,"v":28},{"m":23,"v":30},{"m":24,"v":18},{"m":25,"v":18},{"m":26,"v":37},{"m":27,"v":108},{"m":28,"v":131},{"m":29,"v":78},{"m":30,"v":16},{"m":31,"v":16},{"m":32,"v":14},{"m":33,"v":7},{"m":34,"v":43},{"m":35,"v":32},{"m":36,"v":34},{"m":37,"v":34},{"m":38,"v":34},{"m":39,"v":119},{"m":40,"v":12},{"m":41,"v":49},{"m":42,"v":44},{"m":43,"v":13},{"m":44,"v":20},{"m":45,"v":14},{"m":46,"v":38},{"m":47,"v":25},{"m":48,"v":24},{"m":49,"v":22},{"m":50,"v":38},{"m":51,"v":131},{"m":52,"v":119},{"m":53,"v":37},{"m":54,"v":7},{"m":55,"v":8},{"m":56,"v":13},{"m":57,"v":19},{"m":58,"v":22},{"m":59,"v":22},{"m":60,"v":46},{"m":61,"v":12},{"m":62,"v":20},{"m":63,"v":54},{"m":64,"v":75},{"m":65,"v":31},{"m":66,"v":19},{"m":67,"v":19},{"m":68,"v":19},{"m":69,"v":14},{"m":70,"v":19},{"m":71,"v":13},{"m":72,"v":4},{"m":73,"v":13},{"m":74,"v":22},{"m":75,"v":67},{"m":76,"v":65},{"m":77,"v":37},{"m":78,"v":2},{"m":79,"v":8},{"m":80,"v":10},{"m":81,"v":20},{"m":82,"v":20},{"m":83,"v":20},{"m":84,"v":16},{"m":85,"v":19},{"m":86,"v":22},{"m":87,"v":37},{"m":88,"v":60},{"m":89,"v":34},{"m":90,"v":4},{"m":91,"v":6},{"m":92,"v":6},{"m":93,"v":12},{"m":94,"v":16},{"m":95,"v":14},{"m":96,"v":13},{"m":97,"v":14},{"m":98,"v":31},{"m":99,"v":60},{"m":100,"v":55},{"m":101,"v":37},{"m":102,"v":20},{"m":103,"v":6},{"m":104,"v":4},{"m":105,"v":16},{"m":106,"v":22},{"m":107,"v":19},{"m":108,"v":20},{"m":109,"v":19},{"m":110,"v":20},{"m":111,"v":78},{"m":112,"v":73},{"m":113,"v":43},{"m":114,"v":22},{"m":115,"v":19},{"m":116,"v":14},{"m":117,"v":8},{"m":118,"v":34},{"m":119,"v":28},{"m":120,"v":16},{"m":121,"v":18},{"m":122,"v":19},{"m":123,"v":127},{"m":124,"v":71},{"m":125,"v":1},{"m":126,"v":11},{"m":127,"v":7},{"m":128,"v":9},{"m":129,"v":1},{"m":130,"v":24},{"m":131,"v":25},{"m":132,"v":27},{"m":133,"v":30},{"m":134,"v":30},{"m":135,"v":121},{"m":136,"v":123},{"m":137,"v":71},{"m":138,"v":1},{"m":139,"v":1},{"m":140,"v":3},{"m":141,"v":20},{"m":142,"v":33},{"m":143,"v":36},{"m":144,"v":33},{"m":145,"v":21},{"m":146,"v":60},{"m":147,"v":101},{"m":148,"v":114},{"m":149,"v":24},{"m":150,"v":38},{"m":151,"v":21},{"m":152,"v":9},{"m":153,"v":14},{"m":154,"v":18},{"m":155,"v":43},{"m":156,"v":27},{"m":157,"v":24},{"m":158,"v":21},{"m":159,"v":117},{"m":160,"v":95},{"m":161,"v":90},{"m":162,"v":3},{"m":163,"v":9},{"m":164,"v":13},{"m":165,"v":15},{"m":166,"v":36},{"m":167,"v":36},{"m":168,"v":30},{"m":169,"v":24},{"m":170,"v":18},{"m":171,"v":139},{"m":172,"v":139},{"m":173,"v":71},{"m":174,"v":9},{"m":175,"v":7},{"m":176,"v":5},{"m":177,"v":30},{"m":178,"v":43},{"m":179,"v":50},{"m":180,"v":38},{"m":181,"v":9},{"m":182,"v":18},{"m":183,"v":70},{"m":184,"v":62},{"m":185,"v":27},{"m":186,"v":9},{"m":187,"v":5},{"m":188,"v":3},{"m":189,"v":24},{"m":190,"v":38},{"m":191,"v":24},{"m":192,"v":33},{"m":193,"v":24},{"m":194,"v":27},{"m":195,"v":139},{"m":196,"v":92},{"m":197,"v":5},{"m":198,"v":15},{"m":199,"v":7},{"m":200,"v":11},{"m":201,"v":1},{"m":202,"v":38},{"m":203,"v":34},{"m":204,"v":43},{"m":205,"v":33},{"m":206,"v":33},{"m":207,"v":90},{"m":208,"v":124},{"m":209,"v":108},{"m":210,"v":1},{"m":211,"v":1},{"m":212,"v":2},{"m":213,"v":3},{"m":214,"v":50},{"m":215,"v":49},{"m":216,"v":36},{"m":217,"v":24},{"m":218,"v":66},{"m":219,"v":95},{"m":220,"v":112},{"m":221,"v":18},{"m":222,"v":36},{"m":223,"v":19},{"m":224,"v":11},{"m":225,"v":9},{"m":226,"v":38},{"m":227,"v":64},{"m":228,"v":33},{"m":229,"v":33},{"m":230,"v":27},{"m":231,"v":120},{"m":232,"v":107},{"m":233,"v":92},{"m":234,"v":1},{"m":235,"v":5},{"m":236,"v":18},{"m":237,"v":22},{"m":238,"v":47},{"m":239,"v":47},{"m":240,"v":50}],
"sc4": [{"m":1,"v":28},{"m":2,"v":46},{"m":3,"v":110},{"m":4,"v":100},{"m":5,"v":63},{"m":6,"v":23},{"m":7,"v":25},{"m":8,"v":13},{"m":9,"v":10},{"m":10,"v":29},{"m":11,"v":49},{"m":12,"v":28},{"m":13,"v":33},{"m":14,"v":51},{"m":15,"v":115},{"m":16,"v":114},{"m":17,"v":40},{"m":18,"v":10},{"m":19,"v":5},{"m":20,"v":5},{"m":21,"v":4},{"m":22,"v":27},{"m":23,"v":37},{"m":24,"v":23},{"m":25,"v":23},{"m":26,"v":43},{"m":27,"v":105},{"m":28,"v":133},{"m":29,"v":81},{"m":30,"v":15},{"m":31,"v":22},{"m":32,"v":19},{"m":33,"v":5},{"m":34,"v":49},{"m":35,"v":33},{"m":36,"v":46},{"m":37,"v":44},{"m":38,"v":38},{"m":39,"v":140},{"m":40,"v":128},{"m":41,"v":59},{"m":42,"v":46},{"m":43,"v":17},{"m":44,"v":19},{"m":45,"v":16},{"m":46,"v":47},{"m":47,"v":33},{"m":48,"v":33},{"m":49,"v":28},{"m":50,"v":46},{"m":51,"v":132},{"m":52,"v":117},{"m":53,"v":34},{"m":54,"v":7},{"m":55,"v":10},{"m":56,"v":11},{"m":57,"v":17},{"m":58,"v":28},{"m":59,"v":34},{"m":60,"v":62},{"m":61,"v":17},{"m":62,"v":29},{"m":63,"v":57},{"m":64,"v":74},{"m":65,"v":38},{"m":66,"v":19},{"m":67,"v":19},{"m":68,"v":15},{"m":69,"v":19},{"m":70,"v":22},{"m":71,"v":15},{"m":72,"v":4},{"m":73,"v":15},{"m":74,"v":25},{"m":75,"v":66},{"m":76,"v":63},{"m":77,"v":37},{"m":78,"v":4},{"m":79,"v":11},{"m":80,"v":15},{"m":81,"v":19},{"m":82,"v":24},{"m":83,"v":28},{"m":84,"v":19},{"m":85,"v":29},{"m":86,"v":28},{"m":87,"v":40},{"m":88,"v":63},{"m":89,"v":40},{"m":90,"v":5},{"m":91,"v":7},{"m":92,"v":7},{"m":93,"v":13},{"m":94,"v":21},{"m":95,"v":19},{"m":96,"v":19},{"m":97,"v":22},{"m":98,"v":43},{"m":99,"v":62},{"m":100,"v":57},{"m":101,"v":37},{"m":102,"v":17},{"m":103,"v":16},{"m":104,"v":10},{"m":105,"v":21},{"m":106,"v":28},{"m":107,"v":23},{"m":108,"v":27},{"m":109,"v":25},{"m":110,"v":28},{"m":111,"v":76},{"m":112,"v":74},{"m":113,"v":43},{"m":114,"v":23},{"m":115,"v":21},{"m":116,"v":19},{"m":117,"v":11},{"m":118,"v":40},{"m":119,"v":33},{"m":120,"v":22},{"m":121,"v":20},{"m":122,"v":22},{"m":123,"v":128},{"m":124,"v":122},{"m":125,"v":33},{"m":126,"v":18},{"m":127,"v":10},{"m":128,"v":6},{"m":129,"v":4},{"m":130,"v":27},{"m":131,"v":33},{"m":132,"v":36},{"m":133,"v":47},{"m":134,"v":36},{"m":135,"v":124},{"m":136,"v":118},{"m":137,"v":92},{"m":138,"v":4},{"m":139,"v":2},{"m":140,"v":3},{"m":141,"v":20},{"m":142,"v":36},{"m":143,"v":47},{"m":144,"v":40},{"m":145,"v":40},{"m":146,"v":70},{"m":147,"v":109},{"m":148,"v":149},{"m":149,"v":92},{"m":150,"v":25},{"m":151,"v":18},{"m":152,"v":15},{"m":153,"v":22},{"m":154,"v":30},{"m":155,"v":55},{"m":156,"v":40},{"m":157,"v":37},{"m":158,"v":30},{"m":159,"v":130},{"m":160,"v":136},{"m":161,"v":109},{"m":162,"v":3},{"m":163,"v":4},{"m":164,"v":14},{"m":165,"v":18},{"m":166,"v":51},{"m":167,"v":44},{"m":168,"v":41},{"m":169,"v":34},{"m":170,"v":27},{"m":171,"v":98},{"m":172,"v":141},{"m":173,"v":95},{"m":174,"v":22},{"m":175,"v":10},{"m":176,"v":2},{"m":177,"v":44},{"m":178,"v":62},{"m":179,"v":62},{"m":180,"v":47},{"m":181,"v":16},{"m":182,"v":21},{"m":183,"v":146},{"m":184,"v":80},{"m":185,"v":15},{"m":186,"v":10},{"m":187,"v":14},{"m":188,"v":2},{"m":189,"v":36},{"m":190,"v":50},{"m":191,"v":28},{"m":192,"v":37},{"m":193,"v":27},{"m":194,"v":28},{"m":195,"v":141},{"m":196,"v":121},{"m":197,"v":4},{"m":198,"v":15},{"m":199,"v":6},{"m":200,"v":12},{"m":201,"v":2},{"m":202,"v":38},{"m":203,"v":37},{"m":204,"v":47},{"m":205,"v":36},{"m":206,"v":36},{"m":207,"v":90},{"m":208,"v":130},{"m":209,"v":127},{"m":210,"v":3},{"m":211,"v":3},{"m":212,"v":3},{"m":213,"v":3},{"m":214,"v":46},{"m":215,"v":62},{"m":216,"v":47},{"m":217,"v":36},{"m":218,"v":68},{"m":219,"v":110},{"m":220,"v":152},{"m":221,"v":92},{"m":222,"v":36},{"m":223,"v":18},{"m":224,"v":10},{"m":225,"v":9},{"m":226,"v":36},{"m":227,"v":70},{"m":228,"v":40},{"m":229,"v":40},{"m":230,"v":36},{"m":231,"v":127},{"m":232,"v":139},{"m":233,"v":121},{"m":234,"v":2},{"m":235,"v":2},{"m":236,"v":12},{"m":237,"v":24},{"m":238,"v":59},{"m":239,"v":51},{"m":240,"v":56}],
"sc3": [{"m":1,"v":15},{"m":2,"v":30},{"m":3,"v":58},{"m":4,"v":42},{"m":5,"v":27},{"m":6,"v":21},{"m":7,"v":18},{"m":8,"v":6},{"m":9,"v":3},{"m":10,"v":21},{"m":11,"v":35},{"m":12,"v":18},{"m":13,"v":18},{"m":14,"v":36},{"m":15,"v":90},{"m":16,"v":68},{"m":17,"v":36},{"m":18,"v":3},{"m":19,"v":3},{"m":20,"v":5},{"m":21,"v":3},{"m":22,"v":24},{"m":23,"v":27},{"m":24,"v":15},{"m":25,"v":15},{"m":26,"v":51},{"m":27,"v":100},{"m":28,"v":39},{"m":29,"v":37},{"m":30,"v":11},{"m":31,"v":9},{"m":32,"v":9},{"m":33,"v":3},{"m":34,"v":29},{"m":35,"v":27},{"m":36,"v":27},{"m":37,"v":27},{"m":38,"v":37},{"m":39,"v":62},{"m":40,"v":9},{"m":41,"v":67},{"m":42,"v":27},{"m":43,"v":3},{"m":44,"v":9},{"m":45,"v":5},{"m":46,"v":29},{"m":47,"v":23},{"m":48,"v":21},{"m":49,"v":18},{"m":50,"v":37},{"m":51,"v":52},{"m":52,"v":45},{"m":53,"v":43},{"m":54,"v":5},{"m":55,"v":7},{"m":56,"v":5},{"m":57,"v":12},{"m":58,"v":17},{"m":59,"v":24},{"m":60,"v":39},{"m":61,"v":9},{"m":62,"v":24},{"m":63,"v":46},{"m":64,"v":55},{"m":65,"v":17},{"m":66,"v":15},{"m":67,"v":15},{"m":68,"v":13},{"m":69,"v":15},{"m":70,"v":15},{"m":71,"v":12},{"m":72,"v":3},{"m":73,"v":12},{"m":74,"v":30},{"m":75,"v":68},{"m":76,"v":46},{"m":77,"v":13},{"m":78,"v":1},{"m":79,"v":3},{"m":80,"v":9},{"m":81,"v":11},{"m":82,"v":14},{"m":83,"v":17},{"m":84,"v":12},{"m":85,"v":17},{"m":86,"v":18},{"m":87,"v":30},{"m":88,"v":57},{"m":89,"v":74},{"m":90,"v":3},{"m":91,"v":3},{"m":92,"v":5},{"m":93,"v":9},{"m":94,"v":12},{"m":95,"v":13},{"m":96,"v":13},{"m":97,"v":17},{"m":98,"v":36},{"m":99,"v":62},{"m":100,"v":55},{"m":101,"v":39},{"m":102,"v":7},{"m":103,"v":7},{"m":104,"v":3},{"m":105,"v":13},{"m":106,"v":17},{"m":107,"v":17},{"m":108,"v":15},{"m":109,"v":15},{"m":110,"v":24},{"m":111,"v":79},{"m":112,"v":33},{"m":113,"v":40},{"m":114,"v":12},{"m":115,"v":7},{"m":116,"v":9},{"m":117,"v":5},{"m":118,"v":24},{"m":119,"v":19},{"m":120,"v":12},{"m":121,"v":14},{"m":122,"v":15},{"m":123,"v":78},{"m":124,"v":36},{"m":125,"v":6},{"m":126,"v":9},{"m":127,"v":6},{"m":128,"v":5},{"m":129,"v":1},{"m":130,"v":22},{"m":131,"v":24},{"m":132,"v":27},{"m":133,"v":33},{"m":134,"v":36},{"m":135,"v":46},{"m":136,"v":58},{"m":137,"v":27},{"m":138,"v":1},{"m":139,"v":1},{"m":140,"v":1},{"m":141,"v":15},{"m":142,"v":31},{"m":143,"v":31},{"m":144,"v":25},{"m":145,"v":21},{"m":146,"v":45},{"m":147,"v":62},{"m":148,"v":59},{"m":149,"v":21},{"m":150,"v":33},{"m":151,"v":15},{"m":152,"v":9},{"m":153,"v":12},{"m":154,"v":15},{"m":155,"v":38},{"m":156,"v":27},{"m":157,"v":22},{"m":158,"v":19},{"m":159,"v":38},{"m":160,"v":30},{"m":161,"v":40},{"m":162,"v":9},{"m":163,"v":12},{"m":164,"v":11},{"m":165,"v":15},{"m":166,"v":33},{"m":167,"v":34},{"m":168,"v":31},{"m":169,"v":24},{"m":170,"v":17},{"m":171,"v":38},{"m":172,"v":53},{"m":173,"v":41},{"m":174,"v":24},{"m":175,"v":14},{"m":176,"v":5},{"m":177,"v":21},{"m":178,"v":36},{"m":179,"v":47},{"m":180,"v":36},{"m":181,"v":7},{"m":182,"v":44},{"m":183,"v":19},{"m":184,"v":33},{"m":185,"v":15},{"m":186,"v":6},{"m":187,"v":3},{"m":188,"v":3},{"m":189,"v":21},{"m":190,"v":33},{"m":191,"v":24},{"m":192,"v":30},{"m":193,"v":19},{"m":194,"v":24},{"m":195,"v":83},{"m":196,"v":34},{"m":197,"v":9},{"m":198,"v":11},{"m":199,"v":6},{"m":200,"v":9},{"m":201,"v":5},{"m":202,"v":34},{"m":203,"v":33},{"m":204,"v":38},{"m":205,"v":30},{"m":206,"v":41},{"m":207,"v":74},{"m":208,"v":55},{"m":209,"v":31},{"m":210,"v":1},{"m":211,"v":1},{"m":212,"v":1},{"m":213,"v":1},{"m":214,"v":46},{"m":215,"v":44},{"m":216,"v":37},{"m":217,"v":21},{"m":218,"v":50},{"m":219,"v":104},{"m":220,"v":53},{"m":221,"v":13},{"m":222,"v":21},{"m":223,"v":15},{"m":224,"v":9},{"m":225,"v":9},{"m":226,"v":27},{"m":227,"v":56},{"m":228,"v":27},{"m":229,"v":27},{"m":230,"v":38},{"m":231,"v":107},{"m":232,"v":21},{"m":233,"v":83},{"m":234,"v":1},{"m":235,"v":3},{"m":236,"v":15},{"m":237,"v":17},{"m":238,"v":41},{"m":239,"v":43},{"m":240,"v":44}],
"sc2": [{"m":1,"v":20},{"m":2,"v":24},{"m":3,"v":0},{"m":4,"v":41},{"m":5,"v":36},{"m":6,"v":30},{"m":7,"v":27},{"m":8,"v":4},{"m":9,"v":4},{"m":10,"v":33},{"m":11,"v":41},{"m":12,"v":22},{"m":13,"v":24},{"m":14,"v":18},{"m":15,"v":30},{"m":16,"v":63},{"m":17,"v":16},{"m":18,"v":0},{"m":19,"v":3},{"m":20,"v":4},{"m":21,"v":3},{"m":22,"v":31},{"m":23,"v":30},{"m":24,"v":16},{"m":25,"v":14},{"m":26,"v":33},{"m":27,"v":30},{"m":28,"v":46},{"m":29,"v":27},{"m":30,"v":18},{"m":31,"v":15},{"m":32,"v":10},{"m":33,"v":0},{"m":34,"v":43},{"m":35,"v":40},{"m":36,"v":34},{"m":37,"v":33},{"m":38,"v":18},{"m":39,"v":4},{"m":40,"v":0},{"m":41,"v":37},{"m":42,"v":36},{"m":43,"v":8},{"m":44,"v":15},{"m":45,"v":12},{"m":46,"v":36},{"m":47,"v":28},{"m":48,"v":24},{"m":49,"v":20},{"m":50,"v":33},{"m":51,"v":44},{"m":52,"v":28},{"m":53,"v":18},{"m":54,"v":8},{"m":55,"v":12},{"m":56,"v":12},{"m":57,"v":18},{"m":58,"v":18},{"m":59,"v":27},{"m":60,"v":46},{"m":61,"v":12},{"m":62,"v":27},{"m":63,"v":46},{"m":64,"v":69},{"m":65,"v":41},{"m":66,"v":18},{"m":67,"v":18},{"m":68,"v":15},{"m":69,"v":16},{"m":70,"v":18},{"m":71,"v":15},{"m":72,"v":4},{"m":73,"v":15},{"m":74,"v":24},{"m":75,"v":62},{"m":76,"v":61},{"m":77,"v":27},{"m":78,"v":2},{"m":79,"v":8},{"m":80,"v":10},{"m":81,"v":15},{"m":82,"v":17},{"m":83,"v":18},{"m":84,"v":15},{"m":85,"v":22},{"m":86,"v":24},{"m":87,"v":36},{"m":88,"v":57},{"m":89,"v":31},{"m":90,"v":4},{"m":91,"v":6},{"m":92,"v":6},{"m":93,"v":14},{"m":94,"v":16},{"m":95,"v":15},{"m":96,"v":15},{"m":97,"v":16},{"m":98,"v":33},{"m":99,"v":61},{"m":100,"v":56},{"m":101,"v":31},{"m":102,"v":18},{"m":103,"v":10},{"m":104,"v":6},{"m":105,"v":18},{"m":106,"v":24},{"m":107,"v":20},{"m":108,"v":22},{"m":109,"v":21},{"m":110,"v":24},{"m":111,"v":73},{"m":112,"v":41},{"m":113,"v":40},{"m":114,"v":21},{"m":115,"v":18},{"m":116,"v":18},{"m":117,"v":8},{"m":118,"v":34},{"m":119,"v":28},{"m":120,"v":16},{"m":121,"v":15},{"m":122,"v":16},{"m":123,"v":115},{"m":124,"v":74},{"m":125,"v":3},{"m":126,"v":18},{"m":127,"v":6},{"m":128,"v":9},{"m":129,"v":3},{"m":130,"v":27},{"m":131,"v":28},{"m":132,"v":33},{"m":133,"v":37},{"m":134,"v":31},{"m":135,"v":92},{"m":136,"v":80},{"m":137,"v":27},{"m":138,"v":3},{"m":139,"v":3},{"m":140,"v":3},{"m":141,"v":22},{"m":142,"v":40},{"m":143,"v":47},{"m":144,"v":40},{"m":145,"v":34},{"m":146,"v":65},{"m":147,"v":95},{"m":148,"v":74},{"m":149,"v":27},{"m":150,"v":30},{"m":151,"v":24},{"m":152,"v":14},{"m":153,"v":20},{"m":154,"v":27},{"m":155,"v":49},{"m":156,"v":33},{"m":157,"v":30},{"m":158,"v":33},{"m":159,"v":114},{"m":160,"v":74},{"m":161,"v":83},{"m":162,"v":3},{"m":163,"v":8},{"m":164,"v":14},{"m":165,"v":20},{"m":166,"v":43},{"m":167,"v":40},{"m":168,"v":38},{"m":169,"v":32},{"m":170,"v":27},{"m":171,"v":101},{"m":172,"v":104},{"m":173,"v":56},{"m":174,"v":14},{"m":175,"v":8},{"m":176,"v":4},{"m":177,"v":36},{"m":178,"v":44},{"m":179,"v":55},{"m":180,"v":44},{"m":181,"v":16},{"m":182,"v":27},{"m":183,"v":58},{"m":184,"v":49},{"m":185,"v":21},{"m":186,"v":9},{"m":187,"v":8},{"m":188,"v":3},{"m":189,"v":28},{"m":190,"v":46},{"m":191,"v":30},{"m":192,"v":43},{"m":193,"v":30},{"m":194,"v":33},{"m":195,"v":134},{"m":196,"v":80},{"m":197,"v":2},{"m":198,"v":14},{"m":199,"v":6},{"m":200,"v":12},{"m":201,"v":2},{"m":202,"v":41},{"m":203,"v":38},{"m":204,"v":47},{"m":205,"v":38},{"m":206,"v":38},{"m":207,"v":95},{"m":208,"v":87},{"m":209,"v":30},{"m":210,"v":2},{"m":211,"v":2},{"m":212,"v":2},{"m":213,"v":2},{"m":214,"v":46},{"m":215,"v":49},{"m":216,"v":38},{"m":217,"v":30},{"m":218,"v":70},{"m":219,"v":105},{"m":220,"v":69},{"m":221,"v":21},{"m":222,"v":33},{"m":223,"v":20},{"m":224,"v":14},{"m":225,"v":12},{"m":226,"v":40},{"m":227,"v":65},{"m":228,"v":38},{"m":229,"v":37},{"m":230,"v":30},{"m":231,"v":120},{"m":232,"v":74},{"m":233,"v":89},{"m":234,"v":2},{"m":235,"v":3},{"m":236,"v":18},{"m":237,"v":21},{"m":238,"v":46},{"m":239,"v":43},{"m":240,"v":46}],
"sc1": [{"m":1,"v":28},{"m":2,"v":50},{"m":3,"v":111},{"m":4,"v":66},{"m":5,"v":49},{"m":6,"v":25},{"m":7,"v":31},{"m":8,"v":13},{"m":9,"v":10},{"m":10,"v":31},{"m":11,"v":50},{"m":12,"v":31},{"m":13,"v":32},{"m":14,"v":53},{"m":15,"v":114},{"m":16,"v":114},{"m":17,"v":44},{"m":18,"v":13},{"m":19,"v":10},{"m":20,"v":8},{"m":21,"v":7},{"m":22,"v":31},{"m":23,"v":38},{"m":24,"v":31},{"m":25,"v":31},{"m":26,"v":54},{"m":27,"v":117},{"m":28,"v":132},{"m":29,"v":78},{"m":30,"v":14},{"m":31,"v":22},{"m":32,"v":19},{"m":33,"v":10},{"m":34,"v":49},{"m":35,"v":44},{"m":36,"v":47},{"m":37,"v":46},{"m":38,"v":43},{"m":39,"v":133},{"m":40,"v":13},{"m":41,"v":57},{"m":42,"v":51},{"m":43,"v":19},{"m":44,"v":25},{"m":45,"v":20},{"m":46,"v":45},{"m":47,"v":32},{"m":48,"v":34},{"m":49,"v":31},{"m":50,"v":51},{"m":51,"v":132},{"m":52,"v":123},{"m":53,"v":43},{"m":54,"v":8},{"m":55,"v":13},{"m":56,"v":14},{"m":57,"v":20},{"m":58,"v":28},{"m":59,"v":31},{"m":60,"v":57},{"m":61,"v":22},{"m":62,"v":31},{"m":63,"v":60},{"m":64,"v":75},{"m":65,"v":37},{"m":66,"v":18},{"m":67,"v":18},{"m":68,"v":16},{"m":69,"v":19},{"m":70,"v":20},{"m":71,"v":16},{"m":72,"v":4},{"m":73,"v":19},{"m":74,"v":31},{"m":75,"v":67},{"m":76,"v":60},{"m":77,"v":32},{"m":78,"v":2},{"m":79,"v":10},{"m":80,"v":14},{"m":81,"v":19},{"m":82,"v":24},{"m":83,"v":28},{"m":84,"v":24},{"m":85,"v":32},{"m":86,"v":31},{"m":87,"v":43},{"m":88,"v":63},{"m":89,"v":34},{"m":90,"v":1},{"m":91,"v":10},{"m":92,"v":8},{"m":93,"v":18},{"m":94,"v":22},{"m":95,"v":20},{"m":96,"v":19},{"m":97,"v":20},{"m":98,"v":40},{"m":99,"v":62},{"m":100,"v":57},{"m":101,"v":37},{"m":102,"v":19},{"m":103,"v":16},{"m":104,"v":10},{"m":105,"v":25},{"m":106,"v":31},{"m":107,"v":28},{"m":108,"v":31},{"m":109,"v":28},{"m":110,"v":31},{"m":111,"v":78},{"m":112,"v":75},{"m":113,"v":49},{"m":114,"v":25},{"m":115,"v":25},{"m":116,"v":20},{"m":117,"v":13},{"m":118,"v":43},{"m":119,"v":37},{"m":120,"v":25},{"m":121,"v":13},{"m":122,"v":11},{"m":123,"v":47},{"m":124,"v":24},{"m":125,"v":0},{"m":126,"v":13},{"m":127,"v":12},{"m":128,"v":1},{"m":129,"v":0},{"m":130,"v":27},{"m":131,"v":25},{"m":132,"v":27},{"m":133,"v":24},{"m":134,"v":30},{"m":135,"v":41},{"m":136,"v":28},{"m":137,"v":12},{"m":138,"v":0},{"m":139,"v":0},{"m":140,"v":0},{"m":141,"v":18},{"m":142,"v":36},{"m":143,"v":30},{"m":144,"v":24},{"m":145,"v":31},{"m":146,"v":33},{"m":147,"v":34},{"m":148,"v":24},{"m":149,"v":24},{"m":150,"v":37},{"m":151,"v":25},{"m":152,"v":15},{"m":153,"v":20},{"m":154,"v":25},{"m":155,"v":41},{"m":156,"v":30},{"m":157,"v":24},{"m":158,"v":30},{"m":159,"v":21},{"m":160,"v":30},{"m":161,"v":36},{"m":162,"v":3},{"m":163,"v":1},{"m":164,"v":13},{"m":165,"v":13},{"m":166,"v":36},{"m":167,"v":34},{"m":168,"v":34},{"m":169,"v":18},{"m":170,"v":1},{"m":171,"v":38},{"m":172,"v":71},{"m":173,"v":31},{"m":174,"v":6},{"m":175,"v":4},{"m":176,"v":1},{"m":177,"v":27},{"m":178,"v":37},{"m":179,"v":47},{"m":180,"v":37},{"m":181,"v":12},{"m":182,"v":18},{"m":183,"v":80},{"m":184,"v":59},{"m":185,"v":18},{"m":186,"v":12},{"m":187,"v":17},{"m":188,"v":0},{"m":189,"v":36},{"m":190,"v":50},{"m":191,"v":30},{"m":192,"v":40},{"m":193,"v":27},{"m":194,"v":30},{"m":195,"v":142},{"m":196,"v":101},{"m":197,"v":0},{"m":198,"v":13},{"m":199,"v":6},{"m":200,"v":9},{"m":201,"v":0},{"m":202,"v":33},{"m":203,"v":37},{"m":204,"v":47},{"m":205,"v":36},{"m":206,"v":31},{"m":207,"v":80},{"m":208,"v":130},{"m":209,"v":92},{"m":210,"v":0},{"m":211,"v":0},{"m":212,"v":0},{"m":213,"v":0},{"m":214,"v":47},{"m":215,"v":62},{"m":216,"v":47},{"m":217,"v":36},{"m":218,"v":65},{"m":219,"v":105},{"m":220,"v":142},{"m":221,"v":56},{"m":222,"v":30},{"m":223,"v":18},{"m":224,"v":13},{"m":225,"v":13},{"m":226,"v":30},{"m":227,"v":71},{"m":228,"v":38},{"m":229,"v":38},{"m":230,"v":33},{"m":231,"v":131},{"m":232,"v":130},{"m":233,"v":101},{"m":234,"v":0},{"m":235,"v":6},{"m":236,"v":18},{"m":237,"v":27},{"m":238,"v":62},{"m":239,"v":56},{"m":240,"v":59}]
},
"vconcat": [
{"width": 2458, "height": 190.6, "data": {"name": "sc11"}, "mark": {"type": "line"},
 "encoding": {"x": {"field": "m", "type": "quantitative", "scale": {"domain": [0, 240], "nice": false, "zero": false}, "axis": null},
  "y": {"field": "v", "type": "quantitative", "scale": {"domain": [0, 180], "nice": false}, "axis": {"orient": "left", "title": "SC 11", "values": [0, 45, 90, 135, 180], "labelExpr": "datum.value % 90 === 0 ? datum.label : ''", "tickSize": {"condition": {"test": "datum.value % 90 === 0", "value": 15}, "value": 8}, "labelPadding": 10, "titlePadding": 38, "titleY": 78}}}},
{"width": 2458, "height": 190.6, "data": {"name": "sc10"}, "mark": {"type": "line"},
 "encoding": {"x": {"field": "m", "type": "quantitative", "scale": {"domain": [0, 240], "nice": false, "zero": false}, "axis": null},
  "y": {"field": "v", "type": "quantitative", "scale": {"domain": [0, 180], "nice": false}, "axis": {"orient": "right", "title": "SC 10", "titleAngle": 270, "titleBaseline": "top", "values": [0, 45, 90, 135, 180], "labelExpr": "datum.value % 90 === 0 ? datum.label : ''", "tickSize": {"condition": {"test": "datum.value % 90 === 0", "value": 15}, "value": 8}, "labelPadding": 8, "titlePadding": 36, "titleY": 80}}}},
{"width": 2458, "height": 190.6, "data": {"name": "sc9"}, "mark": {"type": "line"},
 "encoding": {"x": {"field": "m", "type": "quantitative", "scale": {"domain": [0, 240], "nice": false, "zero": false}, "axis": null},
  "y": {"field": "v", "type": "quantitative", "scale": {"domain": [0, 180], "nice": false}, "axis": {"orient": "left", "title": "SC 9", "values": [0, 45, 90, 135, 180], "labelExpr": "datum.value % 90 === 0 ? datum.label : ''", "tickSize": {"condition": {"test": "datum.value % 90 === 0", "value": 15}, "value": 8}, "labelPadding": 10, "titlePadding": 38, "titleY": 78}}}},
{"width": 2458, "height": 190.6, "data": {"name": "sc8"}, "mark": {"type": "line"},
 "encoding": {"x": {"field": "m", "type": "quantitative", "scale": {"domain": [0, 240], "nice": false, "zero": false}, "axis": null},
  "y": {"field": "v", "type": "quantitative", "scale": {"domain": [0, 180], "nice": false}, "axis": {"orient": "right", "title": "SC 8", "titleAngle": 270, "titleBaseline": "top", "values": [0, 45, 90, 135, 180], "labelExpr": "datum.value % 90 === 0 ? datum.label : ''", "tickSize": {"condition": {"test": "datum.value % 90 === 0", "value": 15}, "value": 8}, "labelPadding": 8, "titlePadding": 36, "titleY": 80}}}},
{"width": 2458, "height": 190.6, "data": {"name": "sc7"}, "mark": {"type": "line"},
 "encoding": {"x": {"field": "m", "type": "quantitative", "scale": {"domain": [0, 240], "nice": false, "zero": false}, "axis": null},
  "y": {"field": "v", "type": "quantitative", "scale": {"domain": [0, 180], "nice": false}, "axis": {"orient": "left", "title": "SC 7", "values": [0, 45, 90, 135, 180], "labelExpr": "datum.value % 90 === 0 ? datum.label : ''", "tickSize": {"condition": {"test": "datum.value % 90 === 0", "value": 15}, "value": 8}, "labelPadding": 10, "titlePadding": 38, "titleY": 78}}}},
{"width": 2458, "height": 190.6, "data": {"name": "sc6"}, "mark": {"type": "line"},
 "encoding": {"x": {"field": "m", "type": "quantitative", "scale": {"domain": [0, 240], "nice": false, "zero": false}, "axis": null},
  "y": {"field": "v", "type": "quantitative", "scale": {"domain": [0, 180], "nice": false}, "axis": {"orient": "right", "title": "SC 6", "titleAngle": 270, "titleBaseline": "top", "values": [0, 45, 90, 135, 180], "labelExpr": "datum.value % 90 === 0 ? datum.label : ''", "tickSize": {"condition": {"test": "datum.value % 90 === 0", "value": 15}, "value": 8}, "labelPadding": 8, "titlePadding": 36, "titleY": 80}}}},
{"width": 2458, "height": 190.6, "data": {"name": "sc5"}, "mark": {"type": "line"},
 "encoding": {"x": {"field": "m", "type": "quantitative", "scale": {"domain": [0, 240], "nice": false, "zero": false}, "axis": null},
  "y": {"field": "v", "type": "quantitative", "scale": {"domain": [0, 180], "nice": false}, "axis": {"orient": "left", "title": "SC 5", "values": [0, 45, 90, 135, 180], "labelExpr": "datum.value % 90 === 0 ? datum.label : ''", "tickSize": {"condition": {"test": "datum.value % 90 === 0", "value": 15}, "value": 8}, "labelPadding": 10, "titlePadding": 38, "titleY": 78}}}},
{"width": 2458, "height": 190.6, "data": {"name": "sc4"}, "mark": {"type": "line"},
 "encoding": {"x": {"field": "m", "type": "quantitative", "scale": {"domain": [0, 240], "nice": false, "zero": false}, "axis": null},
  "y": {"field": "v", "type": "quantitative", "scale": {"domain": [0, 180], "nice": false}, "axis": {"orient": "right", "title": "SC 4", "titleAngle": 270, "titleBaseline": "top", "values": [0, 45, 90, 135, 180], "labelExpr": "datum.value % 90 === 0 ? datum.label : ''", "tickSize": {"condition": {"test": "datum.value % 90 === 0", "value": 15}, "value": 8}, "labelPadding": 8, "titlePadding": 36, "titleY": 80}}}},
{"width": 2458, "height": 190.6, "data": {"name": "sc3"}, "mark": {"type": "line"},
 "encoding": {"x": {"field": "m", "type": "quantitative", "scale": {"domain": [0, 240], "nice": false, "zero": false}, "axis": null},
  "y": {"field": "v", "type": "quantitative", "scale": {"domain": [0, 180], "nice": false}, "axis": {"orient": "left", "title": "SC 3", "values": [0, 45, 90, 135, 180], "labelExpr": "datum.value % 90 === 0 ? datum.label : ''", "tickSize": {"condition": {"test": "datum.value % 90 === 0", "value": 15}, "value": 8}, "labelPadding": 10, "titlePadding": 38, "titleY": 78}}}},
{"width": 2458, "height": 190.6, "data": {"name": "sc2"}, "mark": {"type": "line"},
 "encoding": {"x": {"field": "m", "type": "quantitative", "scale": {"domain": [0, 240], "nice": false, "zero": false}, "axis": null},
  "y": {"field": "v", "type": "quantitative", "scale": {"domain": [0, 180], "nice": false}, "axis": {"orient": "right", "title": "SC 2", "titleAngle": 270, "titleBaseline": "top", "values": [0, 45, 90, 135, 180], "labelExpr": "datum.value % 90 === 0 ? datum.label : ''", "tickSize": {"condition": {"test": "datum.value % 90 === 0", "value": 15}, "value": 8}, "labelPadding": 8, "titlePadding": 36, "titleY": 80}}}},
{"width": 2458, "height": 190.6, "data": {"name": "sc1"}, "mark": {"type": "line"},
 "encoding": {"x": {"field": "m", "type": "quantitative", "scale": {"domain": [0, 240], "nice": false, "zero": false}, "axis": {"orient": "bottom", "title": "Months", "tickCount": 240, "labelExpr": "datum.value > 0 && datum.value % 30 === 0 ? ['AUG 2002','DEC 2005','JUN 2008','DEC 2010','JUN 2013','DEC 2015','JUN 2018','DEC 2020'][datum.value / 30 - 1] : ''", "tickSize": {"condition": {"test": "datum.value % 30 === 0", "value": 17}, "value": 6}, "tickWidth": 2, "labelOverlap": false, "labelFlush": false, "labelBound": false, "labelPadding": 12, "labelFontSize": 38, "titleFontSize": 42, "titlePadding": 45, "domainColor": "#555555", "domainWidth": 3}},
  "y": {"field": "v", "type": "quantitative", "scale": {"domain": [0, 180], "nice": false}, "axis": {"orient": "left", "title": "SC 1", "values": [0, 45, 90, 135, 180], "labelExpr": "datum.value % 90 === 0 ? datum.label : ''", "tickSize": {"condition": {"test": "datum.value % 90 === 0", "value": 15}, "value": 8}, "labelPadding": 10, "titlePadding": 38, "titleY": 78}}}}
]
}
